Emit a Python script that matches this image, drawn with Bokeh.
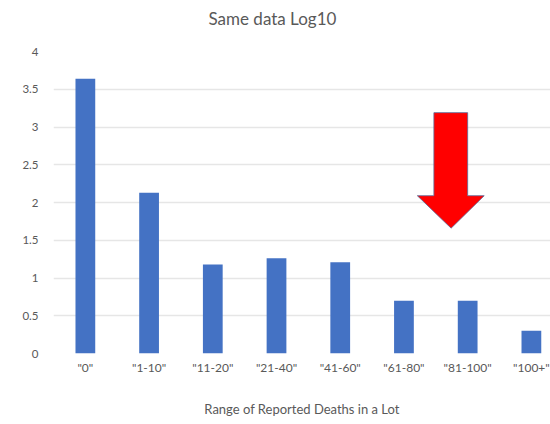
from bokeh.plotting import figure
from bokeh.models import Range1d, FixedTicker, PolyAnnotation
from bokeh.embed import file_html
from bokeh.resources import INLINE

categories = ['"0"', '"1-10"', '"11-20"', '"21-40"', '"41-60"', '"61-80"', '"81-100"', '"100+"']
log_values = [3.64, 2.13, 1.18, 1.26, 1.21, 0.70, 0.70, 0.30]
y_ticks = [0, 0.5, 1, 1.5, 2, 2.5, 3, 3.5, 4]
y_tick_labels = ["0", "0.5", "1", "1.5", "2", "2.5", "3", "3.5", "4"]
title_text = "Same data Log10"

FONT = "Lato"
GRAY = "#595959"

xc = [i + 0.5 for i in range(len(categories))]

p = figure(width=550, height=424, output_backend="svg", toolbar_location=None,
           x_range=Range1d(0, 7.8), y_range=Range1d(0, 4.0),
           min_border_left=53, min_border_right=0, min_border_top=51, min_border_bottom=71,
           title=title_text + "\n")
p.outline_line_color = None
p.background_fill_color = "white"
p.border_fill_color = "white"

p.title.text_font = FONT
p.title.text_font_size = "17px"
p.title.text_font_style = "normal"
p.title.text_color = GRAY
p.title.align = "left"
p.title.offset = 155
p.title.standoff = 8
p.title.text_line_height = 0.9

p.vbar(x=xc, top=log_values, width=0.31, bottom=0, color="#4472C4", line_color=None)

# red arrow annotation near "81-100"
ax = 6.5 - 0.26
p.add_layout(PolyAnnotation(
    xs=[ax - 0.27, ax + 0.26, ax + 0.26, ax + 0.52, ax, ax - 0.53, ax - 0.27],
    ys=[3.19, 3.19, 2.09, 2.09, 1.66, 2.09, 2.09],
    fill_color="#FF0000", fill_alpha=1.0, line_color="#5a6a9a", line_width=1, line_alpha=0.8))

p.xaxis.ticker = FixedTicker(ticks=xc)
p.xaxis.major_label_overrides = {x: c for x, c in zip(xc, categories)}
p.yaxis.ticker = FixedTicker(ticks=y_ticks)
p.yaxis.major_label_overrides = {t: s for t, s in zip(y_ticks, y_tick_labels)}

for ax_ in (p.xaxis, p.yaxis):
    ax_.axis_line_color = None
    ax_.major_tick_line_color = None
    ax_.minor_tick_line_color = None
    ax_.major_tick_out = 0
    ax_.major_label_text_font = FONT
    ax_.major_label_text_color = GRAY

p.xaxis.major_label_text_font_size = "12px"
p.yaxis.major_label_text_font_size = "11.5px"
p.xaxis.major_label_standoff = 6
p.yaxis.major_label_standoff = 15

p.xaxis.axis_label = "Range of Reported Deaths in a Lot"
p.xaxis.axis_label_text_font = FONT
p.xaxis.axis_label_text_font_size = "13px"
p.xaxis.axis_label_text_font_style = "normal"
p.xaxis.axis_label_text_color = GRAY
p.xaxis.axis_label_standoff = 23

p.xgrid.grid_line_color = None
p.ygrid.grid_line_color = "#e6e6e6"
p.ygrid.grid_line_width = 1.5

open("out.html", "w").write(file_html(p, INLINE))
